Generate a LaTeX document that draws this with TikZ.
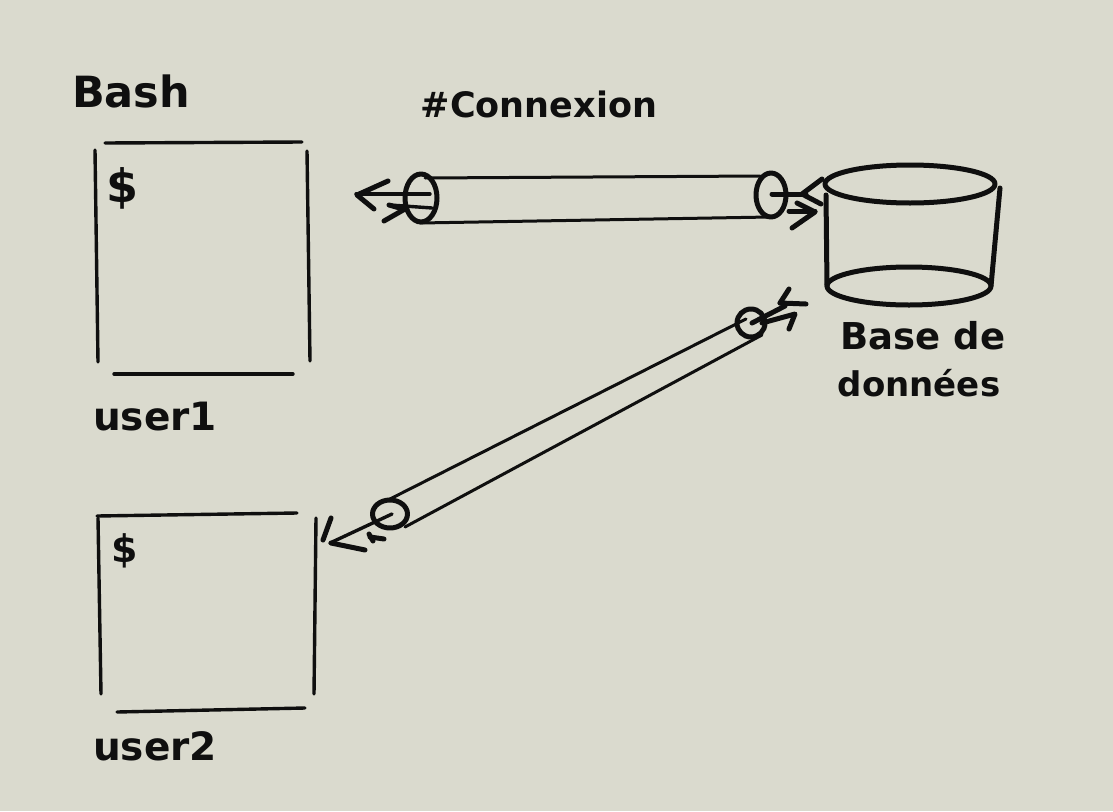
\documentclass[tikz,border=0pt]{standalone}
\usepackage{fontspec}
\setmainfont{DejaVu Sans}
\definecolor{paper}{HTML}{DADACE}
\definecolor{ink}{HTML}{0F0F0F}
\tikzset{
  x=1pt,y=-1pt,
  pen/.style={draw=ink,line width=3.4pt,line cap=round,line join=round},
  penthin/.style={draw=ink,line width=3pt,line cap=round,line join=round},
  penthick/.style={draw=ink,line width=5pt,line cap=round,line join=round},
  hand/.style={text=ink,inner sep=0pt,font=\fontsize{#1}{#1}\selectfont\bfseries},
  hand/.default=32
}
\begin{document}
\begin{tikzpicture}
\useasboundingbox[fill=paper] (0,0) rectangle (1113,811);
% terminal user1
\draw[pen] (105,143) -- (302,142);
\draw[pen] (95,150) -- (98,362);
\draw[pen] (307,151) -- (310,361);
\draw[pen] (114,374) -- (293,374);
% terminal user2
\draw[pen] (97,516) -- (297,513);
\draw[pen] (98,518) -- (101,694);
\draw[pen] (316,518) -- (314,694);
\draw[pen] (117,712) -- (305,708);
% labels
\node[hand=43,anchor=center] (bash) at (131,91) {Bash};
\node[hand=46,anchor=center] (d1) at (123,188) {\$};
\node[hand=38,anchor=center] (d2) at (125,551) {\$};
\node[hand=35,anchor=center] (cx) at (539,104) {\#Connexion};
\node[hand=39,anchor=center] (u1) at (155,417) {user1};
\node[hand=39,anchor=center] (u2) at (155,746) {user2};
\node[hand=37,anchor=center] (bd1) at (923,336) {Base de};
\node[hand=34,anchor=center] (bd2) at (919,383) {données};
% top tube
\draw[penthin] (425,178) -- (760,176);
\draw[penthin] (420,223) -- (770,217);
\draw[penthick] (421,198) ellipse [x radius=16,y radius=24];
\draw[penthick] (771,195) ellipse [x radius=15,y radius=22];
% arrows, left end of top tube
\draw[pen] (356,194) -- (430,194);
\draw[penthick] (388,181) -- (357,195) -- (374,209);
\draw[pen] (390,205) -- (432,208);
\draw[penthick] (384,221) -- (405,209);
\draw[penthick] (389,205) -- (403,209);
% arrows, right end of top tube
\draw[penthick] (772,194) -- (806,194);
\draw[penthick] (822,179) -- (802,194) -- (821,204);
\draw[penthick] (789,211) -- (815,211);
\draw[penthick] (797,203) -- (815,212) -- (792,228);
% database
\draw[penthick] (910,184) ellipse [x radius=85,y radius=19];
\draw[penthick] (826,195) -- (827,286);
\draw[penthick] (1000,188) -- (991,286);
\draw[penthick] (909,286) ellipse [x radius=82,y radius=19];
% diagonal tube
\draw[penthin] (388,500) -- (746,319);
\draw[penthin] (405,527) -- (762,335);
\draw[penthick] (390,514) ellipse [x radius=17.5,y radius=14];
\draw[penthick] (751,323) circle [radius=14];
% arrows, lower end
\draw[pen] (330,543) -- (392,514);
\draw[penthick] (331,543) -- (365,550);
\draw[penthick] (323,540) -- (331,518);
\draw[penthick] (370,537) -- (384,539);
\draw[penthick] (369,534) -- (373,541);
% arrows, upper end
\draw[penthick] (752,323) -- (785,306);
\draw[penthick] (780,303) -- (789,289);
\draw[penthick] (780,303) -- (806,304);
\draw[penthick] (762,323) -- (795,314) -- (789,329);
\end{tikzpicture}
\end{document}
